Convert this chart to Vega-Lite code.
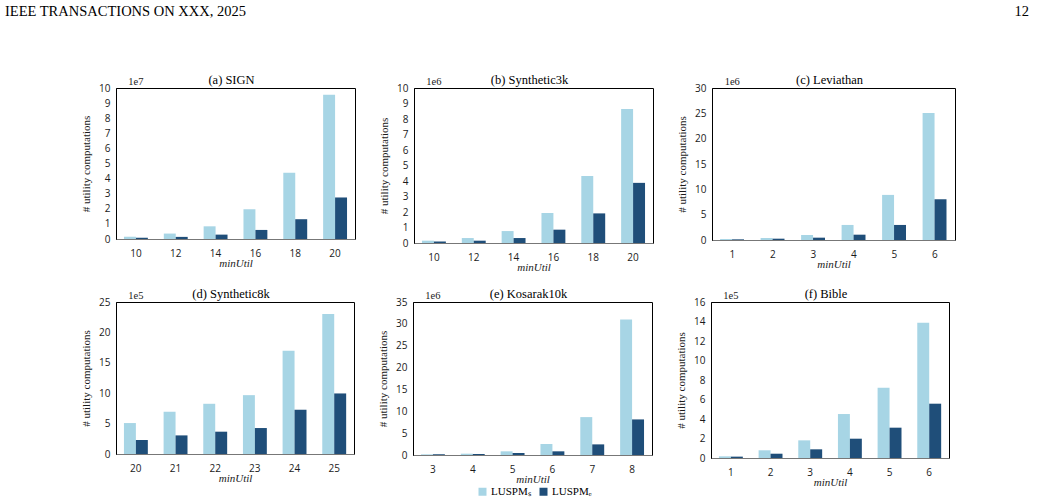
{
  "$schema": "https://vega.github.io/schema/vega-lite/v6.json",
  "padding": {"left": 5, "top": 4, "right": 5, "bottom": 2},
  "background": "white",
  "spacing": 14,
  "datasets": {
    "bars": [
      {"panel": "a", "minUtil": 10, "method": "LUSPMₛ", "value": 0.15},
      {"panel": "a", "minUtil": 10, "method": "LUSPMₑ", "value": 0.09},
      {"panel": "a", "minUtil": 12, "method": "LUSPMₛ", "value": 0.36},
      {"panel": "a", "minUtil": 12, "method": "LUSPMₑ", "value": 0.14},
      {"panel": "a", "minUtil": 14, "method": "LUSPMₛ", "value": 0.84},
      {"panel": "a", "minUtil": 14, "method": "LUSPMₑ", "value": 0.29},
      {"panel": "a", "minUtil": 16, "method": "LUSPMₛ", "value": 1.97},
      {"panel": "a", "minUtil": 16, "method": "LUSPMₑ", "value": 0.6},
      {"panel": "a", "minUtil": 18, "method": "LUSPMₛ", "value": 4.39},
      {"panel": "a", "minUtil": 18, "method": "LUSPMₑ", "value": 1.31},
      {"panel": "a", "minUtil": 20, "method": "LUSPMₛ", "value": 9.56},
      {"panel": "a", "minUtil": 20, "method": "LUSPMₑ", "value": 2.75},

      {"panel": "b", "minUtil": 10, "method": "LUSPMₛ", "value": 0.15},
      {"panel": "b", "minUtil": 10, "method": "LUSPMₑ", "value": 0.09},
      {"panel": "b", "minUtil": 12, "method": "LUSPMₛ", "value": 0.32},
      {"panel": "b", "minUtil": 12, "method": "LUSPMₑ", "value": 0.15},
      {"panel": "b", "minUtil": 14, "method": "LUSPMₛ", "value": 0.77},
      {"panel": "b", "minUtil": 14, "method": "LUSPMₑ", "value": 0.32},
      {"panel": "b", "minUtil": 16, "method": "LUSPMₛ", "value": 1.93},
      {"panel": "b", "minUtil": 16, "method": "LUSPMₑ", "value": 0.86},
      {"panel": "b", "minUtil": 18, "method": "LUSPMₛ", "value": 4.33},
      {"panel": "b", "minUtil": 18, "method": "LUSPMₑ", "value": 1.91},
      {"panel": "b", "minUtil": 20, "method": "LUSPMₛ", "value": 8.65},
      {"panel": "b", "minUtil": 20, "method": "LUSPMₑ", "value": 3.88},

      {"panel": "c", "minUtil": 1, "method": "LUSPMₛ", "value": 0.2},
      {"panel": "c", "minUtil": 1, "method": "LUSPMₑ", "value": 0.13},
      {"panel": "c", "minUtil": 2, "method": "LUSPMₛ", "value": 0.4},
      {"panel": "c", "minUtil": 2, "method": "LUSPMₑ", "value": 0.26},
      {"panel": "c", "minUtil": 3, "method": "LUSPMₛ", "value": 0.99},
      {"panel": "c", "minUtil": 3, "method": "LUSPMₑ", "value": 0.46},
      {"panel": "c", "minUtil": 4, "method": "LUSPMₛ", "value": 2.97},
      {"panel": "c", "minUtil": 4, "method": "LUSPMₑ", "value": 1.05},
      {"panel": "c", "minUtil": 5, "method": "LUSPMₛ", "value": 8.9},
      {"panel": "c", "minUtil": 5, "method": "LUSPMₑ", "value": 2.97},
      {"panel": "c", "minUtil": 6, "method": "LUSPMₛ", "value": 25.05},
      {"panel": "c", "minUtil": 6, "method": "LUSPMₑ", "value": 8.04},

      {"panel": "d", "minUtil": 20, "method": "LUSPMₛ", "value": 5.09},
      {"panel": "d", "minUtil": 20, "method": "LUSPMₑ", "value": 2.3},
      {"panel": "d", "minUtil": 21, "method": "LUSPMₛ", "value": 6.95},
      {"panel": "d", "minUtil": 21, "method": "LUSPMₑ", "value": 3.06},
      {"panel": "d", "minUtil": 22, "method": "LUSPMₛ", "value": 8.26},
      {"panel": "d", "minUtil": 22, "method": "LUSPMₑ", "value": 3.67},
      {"panel": "d", "minUtil": 23, "method": "LUSPMₛ", "value": 9.68},
      {"panel": "d", "minUtil": 23, "method": "LUSPMₑ", "value": 4.27},
      {"panel": "d", "minUtil": 24, "method": "LUSPMₛ", "value": 17.0},
      {"panel": "d", "minUtil": 24, "method": "LUSPMₑ", "value": 7.28},
      {"panel": "d", "minUtil": 25, "method": "LUSPMₛ", "value": 23.03},
      {"panel": "d", "minUtil": 25, "method": "LUSPMₑ", "value": 9.96},

      {"panel": "e", "minUtil": 3, "method": "LUSPMₛ", "value": 0.15},
      {"panel": "e", "minUtil": 3, "method": "LUSPMₑ", "value": 0.15},
      {"panel": "e", "minUtil": 4, "method": "LUSPMₛ", "value": 0.3},
      {"panel": "e", "minUtil": 4, "method": "LUSPMₑ", "value": 0.23},
      {"panel": "e", "minUtil": 5, "method": "LUSPMₛ", "value": 0.84},
      {"panel": "e", "minUtil": 5, "method": "LUSPMₑ", "value": 0.46},
      {"panel": "e", "minUtil": 6, "method": "LUSPMₛ", "value": 2.51},
      {"panel": "e", "minUtil": 6, "method": "LUSPMₑ", "value": 0.84},
      {"panel": "e", "minUtil": 7, "method": "LUSPMₛ", "value": 8.67},
      {"panel": "e", "minUtil": 7, "method": "LUSPMₑ", "value": 2.43},
      {"panel": "e", "minUtil": 8, "method": "LUSPMₛ", "value": 30.97},
      {"panel": "e", "minUtil": 8, "method": "LUSPMₑ", "value": 8.14},

      {"panel": "f", "minUtil": 1, "method": "LUSPMₛ", "value": 0.17},
      {"panel": "f", "minUtil": 1, "method": "LUSPMₑ", "value": 0.14},
      {"panel": "f", "minUtil": 2, "method": "LUSPMₛ", "value": 0.79},
      {"panel": "f", "minUtil": 2, "method": "LUSPMₑ", "value": 0.44},
      {"panel": "f", "minUtil": 3, "method": "LUSPMₛ", "value": 1.81},
      {"panel": "f", "minUtil": 3, "method": "LUSPMₑ", "value": 0.89},
      {"panel": "f", "minUtil": 4, "method": "LUSPMₛ", "value": 4.51},
      {"panel": "f", "minUtil": 4, "method": "LUSPMₑ", "value": 1.98},
      {"panel": "f", "minUtil": 5, "method": "LUSPMₛ", "value": 7.21},
      {"panel": "f", "minUtil": 5, "method": "LUSPMₑ", "value": 3.11},
      {"panel": "f", "minUtil": 6, "method": "LUSPMₛ", "value": 13.88},
      {"panel": "f", "minUtil": 6, "method": "LUSPMₑ", "value": 5.57}
    ],
    "header": [
      {"side": "left", "text": "IEEE TRANSACTIONS ON XXX, 2025"},
      {"side": "right", "text": "12"}
    ]
  },
  "vconcat": [
    {
      "width": 913,
      "height": 47,
      "view": {"stroke": null},
      "data": {"name": "header"},
      "layer": [
        {
          "transform": [{"filter": "datum.side == 'left'"}],
          "mark": {"type": "text", "align": "left", "baseline": "middle", "dx": -111, "font": "Liberation Serif", "fontSize": 14.5, "color": "#000"},
          "encoding": {
            "x": {"datum": 0, "type": "quantitative", "scale": {"domain": [0, 1], "nice": false}, "axis": null},
            "y": {"datum": 1, "type": "quantitative", "scale": {"domain": [0, 1], "nice": false}, "axis": null},
            "text": {"field": "text"}
          }
        },
        {
          "transform": [{"filter": "datum.side == 'right'"}],
          "mark": {"type": "text", "align": "right", "baseline": "middle", "font": "Liberation Serif", "fontSize": 14.5, "color": "#000"},
          "encoding": {
            "x": {"datum": 1, "type": "quantitative", "scale": {"domain": [0, 1], "nice": false}, "axis": null},
            "y": {"datum": 1, "type": "quantitative", "scale": {"domain": [0, 1], "nice": false}, "axis": null},
            "text": {"field": "text"}
          }
        }
      ]
    },
    {
      "hconcat": [
        {
          "width": 239, "height": 151,
          "title": {"text": "(a) SIGN"},
          "encoding": {
            "y": {"type": "quantitative", "title": "# utility computations", "scale": {"domain": [0, 10], "nice": false}, "axis": {"values": [0, 1, 2, 3, 4, 5, 6, 7, 8, 9, 10]}}
          },
          "layer": [
            {
              "data": {"name": "bars"},
              "transform": [{"filter": "datum.panel == 'a'"}],
              "mark": {"type": "bar"},
              "encoding": {
                "x": {"field": "minUtil", "type": "ordinal", "title": "minUtil", "scale": {"paddingInner": 0.4, "paddingOuter": 0.2}},
                "xOffset": {"field": "method", "scale": {"domain": ["LUSPMₛ", "LUSPMₑ"]}},
                "y": {"field": "value"},
                "color": {"field": "method", "title": null, "scale": {"domain": ["LUSPMₛ", "LUSPMₑ"], "range": ["#a7d5e5", "#1f4e79"]}}
              }
            },
            {
              "data": {"values": [{"exp": "1e7"}]},
              "mark": {"type": "text", "baseline": "bottom", "dy": -1, "font": "Liberation Serif", "fontSize": 10.5, "color": "#222"},
              "encoding": {"x": {"datum": 10, "type": "ordinal"}, "y": {"datum": 10}, "text": {"field": "exp"}}
            }
          ]
        },
        {
          "width": 239, "height": 155,
          "title": {"text": "(b) Synthetic3k"},
          "encoding": {
            "y": {"type": "quantitative", "title": "# utility computations", "scale": {"domain": [0, 10], "nice": false}, "axis": {"values": [0, 1, 2, 3, 4, 5, 6, 7, 8, 9, 10]}}
          },
          "layer": [
            {
              "data": {"name": "bars"},
              "transform": [{"filter": "datum.panel == 'b'"}],
              "mark": {"type": "bar"},
              "encoding": {
                "x": {"field": "minUtil", "type": "ordinal", "title": "minUtil", "scale": {"paddingInner": 0.4, "paddingOuter": 0.2}},
                "xOffset": {"field": "method", "scale": {"domain": ["LUSPMₛ", "LUSPMₑ"]}},
                "y": {"field": "value"},
                "color": {"field": "method", "title": null, "scale": {"domain": ["LUSPMₛ", "LUSPMₑ"], "range": ["#a7d5e5", "#1f4e79"]}}
              }
            },
            {
              "data": {"values": [{"exp": "1e6"}]},
              "mark": {"type": "text", "baseline": "bottom", "dy": -1, "font": "Liberation Serif", "fontSize": 10.5, "color": "#222"},
              "encoding": {"x": {"datum": 10, "type": "ordinal"}, "y": {"datum": 10}, "text": {"field": "exp"}}
            }
          ]
        },
        {
          "width": 243, "height": 152,
          "title": {"text": "(c) Leviathan"},
          "encoding": {
            "y": {"type": "quantitative", "title": "# utility computations", "scale": {"domain": [0, 30], "nice": false}, "axis": {"values": [0, 5, 10, 15, 20, 25, 30]}}
          },
          "layer": [
            {
              "data": {"name": "bars"},
              "transform": [{"filter": "datum.panel == 'c'"}],
              "mark": {"type": "bar"},
              "encoding": {
                "x": {"field": "minUtil", "type": "ordinal", "title": "minUtil", "scale": {"paddingInner": 0.4, "paddingOuter": 0.2}},
                "xOffset": {"field": "method", "scale": {"domain": ["LUSPMₛ", "LUSPMₑ"]}},
                "y": {"field": "value"},
                "color": {"field": "method", "title": null, "scale": {"domain": ["LUSPMₛ", "LUSPMₑ"], "range": ["#a7d5e5", "#1f4e79"]}}
              }
            },
            {
              "data": {"values": [{"exp": "1e6"}]},
              "mark": {"type": "text", "baseline": "bottom", "dy": -1, "font": "Liberation Serif", "fontSize": 10.5, "color": "#222"},
              "encoding": {"x": {"datum": 1, "type": "ordinal"}, "y": {"datum": 30}, "text": {"field": "exp"}}
            }
          ]
        }
      ]
    },
    {
      "hconcat": [
        {
          "width": 238, "height": 152,
          "title": {"text": "(d) Synthetic8k"},
          "encoding": {
            "y": {"type": "quantitative", "title": "# utility computations", "scale": {"domain": [0, 25], "nice": false}, "axis": {"values": [0, 5, 10, 15, 20, 25]}}
          },
          "layer": [
            {
              "data": {"name": "bars"},
              "transform": [{"filter": "datum.panel == 'd'"}],
              "mark": {"type": "bar"},
              "encoding": {
                "x": {"field": "minUtil", "type": "ordinal", "title": "minUtil", "scale": {"paddingInner": 0.4, "paddingOuter": 0.2}},
                "xOffset": {"field": "method", "scale": {"domain": ["LUSPMₛ", "LUSPMₑ"]}},
                "y": {"field": "value"},
                "color": {"field": "method", "title": null, "scale": {"domain": ["LUSPMₛ", "LUSPMₑ"], "range": ["#a7d5e5", "#1f4e79"]}}
              }
            },
            {
              "data": {"values": [{"exp": "1e5"}]},
              "mark": {"type": "text", "baseline": "bottom", "dy": -1, "font": "Liberation Serif", "fontSize": 10.5, "color": "#222"},
              "encoding": {"x": {"datum": 20, "type": "ordinal"}, "y": {"datum": 25}, "text": {"field": "exp"}}
            }
          ]
        },
        {
          "width": 239, "height": 153,
          "title": {"text": "(e) Kosarak10k"},
          "encoding": {
            "y": {"type": "quantitative", "title": "# utility computations", "scale": {"domain": [0, 35], "nice": false}, "axis": {"values": [0, 5, 10, 15, 20, 25, 30, 35]}}
          },
          "layer": [
            {
              "data": {"name": "bars"},
              "transform": [{"filter": "datum.panel == 'e'"}],
              "mark": {"type": "bar"},
              "encoding": {
                "x": {"field": "minUtil", "type": "ordinal", "title": "minUtil", "scale": {"paddingInner": 0.4, "paddingOuter": 0.2}},
                "xOffset": {"field": "method", "scale": {"domain": ["LUSPMₛ", "LUSPMₑ"]}},
                "y": {"field": "value"},
                "color": {"field": "method", "title": null, "scale": {"domain": ["LUSPMₛ", "LUSPMₑ"], "range": ["#a7d5e5", "#1f4e79"]}}
              }
            },
            {
              "data": {"values": [{"exp": "1e6"}]},
              "mark": {"type": "text", "baseline": "bottom", "dy": -1, "font": "Liberation Serif", "fontSize": 10.5, "color": "#222"},
              "encoding": {"x": {"datum": 3, "type": "ordinal"}, "y": {"datum": 35}, "text": {"field": "exp"}}
            }
          ]
        },
        {
          "width": 238, "height": 156,
          "title": {"text": "(f) Bible"},
          "encoding": {
            "y": {"type": "quantitative", "title": "# utility computations", "scale": {"domain": [0, 16], "nice": false}, "axis": {"values": [0, 2, 4, 6, 8, 10, 12, 14, 16]}}
          },
          "layer": [
            {
              "data": {"name": "bars"},
              "transform": [{"filter": "datum.panel == 'f'"}],
              "mark": {"type": "bar"},
              "encoding": {
                "x": {"field": "minUtil", "type": "ordinal", "title": "minUtil", "scale": {"paddingInner": 0.4, "paddingOuter": 0.2}},
                "xOffset": {"field": "method", "scale": {"domain": ["LUSPMₛ", "LUSPMₑ"]}},
                "y": {"field": "value"},
                "color": {"field": "method", "title": null, "scale": {"domain": ["LUSPMₛ", "LUSPMₑ"], "range": ["#a7d5e5", "#1f4e79"]}}
              }
            },
            {
              "data": {"values": [{"exp": "1e5"}]},
              "mark": {"type": "text", "baseline": "bottom", "dy": -1, "font": "Liberation Serif", "fontSize": 10.5, "color": "#222"},
              "encoding": {"x": {"datum": 1, "type": "ordinal"}, "y": {"datum": 16}, "text": {"field": "exp"}}
            }
          ]
        }
      ]
    }
  ],
  "resolve": {"scale": {"color": "shared"}},
  "config": {
    "view": {"stroke": "#000", "strokeWidth": 1},
    "concat": {"spacing": 22},
    "bar": {"stroke": null},
    "title": {"font": "Liberation Serif", "fontSize": 12.5, "fontWeight": "normal", "color": "#000", "offset": -9, "frame": "group", "dx": -4},
    "axis": {
      "grid": false,
      "ticks": false,
      "labelOverlap": false,
      "labelFont": "Open Sans",
      "labelFontSize": 10,
      "labelColor": "#1a1a1a",
      "titleFont": "Liberation Serif",
      "titleFontSize": 11,
      "titleFontWeight": "normal",
      "titleColor": "#1a1a1a"
    },
    "axisX": {"labelAngle": 0, "domainColor": "#777", "domainWidth": 1.2, "labelPadding": 9, "titlePadding": -1, "titleFontStyle": "italic"},
    "axisY": {"domainColor": "#000", "labelPadding": 6, "titlePadding": 7, "labelOverlap": false},
    "legend": {
      "orient": "none",
      "legendX": 361,
      "legendY": 474,
      "direction": "horizontal",
      "symbolType": "square",
      "symbolSize": 64,
      "symbolStrokeWidth": 0,
      "labelFont": "Liberation Serif",
      "labelFontSize": 11,
      "labelColor": "#000",
      "labelOffset": 3,
      "columnPadding": 7,
      "padding": 0
    }
  }
}
